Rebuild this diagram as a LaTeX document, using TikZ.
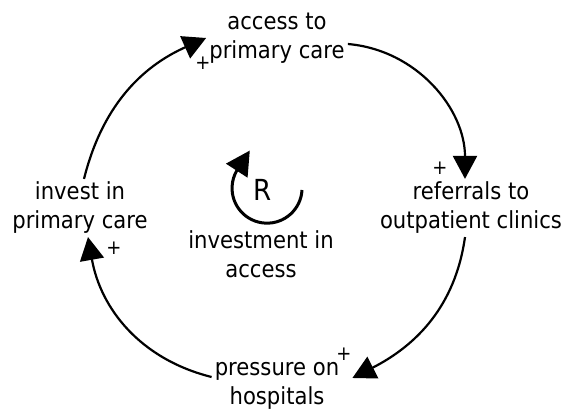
\documentclass[tikz,border=0pt]{standalone}
\usepackage{fontspec}
\setmainfont{DejaVu Sans}[FakeStretch=0.9]
\usetikzlibrary{arrows.meta}

\tikzset{
	var/.style={align=center, font=\fontsize{23.5}{29}\selectfont, inner sep=3pt},
	link/.style={line width=2.2pt, -{Triangle[length=23pt, width=24pt]}},
	pol/.style={font=\fontsize{20}{20}\selectfont, inner sep=0pt},
}

\begin{document}
\begin{tikzpicture}[x=1pt, y=1pt]
			% Frame, variables and links:
			\useasboundingbox (0,0) rectangle (568,412);
			\node[var](N1) at (277,374){access to\\primary care};
			\node[var](N2) at (471,204){referrals to\\outpatient clinics};
			\node[var](N3) at (277,26){pressure on\\hospitals};
			\node[var](N4) at (80,204){invest in\\primary care};
			\draw[link] ([xshift=4pt]N4.north) to[out=76, in=204] (N1.west);
			\draw[link] ([yshift=-6pt]N1.east) to[out=-5, in=90] ([xshift=-6pt]N2.north);
			\draw[link] ([xshift=-6pt]N2.south) to[out=-98, in=27] ([xshift=10pt, yshift=8pt]N3.east);
			\draw[link] ([yshift=9pt]N3.west) to[out=166, in=-80] ([xshift=8pt]N4.south);
			% Polarities:
			\node[pol] at (203,349){+};
			\node[pol] at (440,244){+};
			\node[pol] at (344,58){+};
			\node[pol] at (114,164){+};
			% Loop marker:
			\node[var, font=\fontsize{29}{29}\selectfont](N5) at (263,222){R};
			\draw[line width=3pt, -{Triangle[length=24pt, width=25pt]}] (302,222) arc[start angle=-3, end angle=-210, radius=35] -- ++(57:24);
			\node[var](N6) at (261,158){investment in\\access};
		\end{tikzpicture}
\end{document}
